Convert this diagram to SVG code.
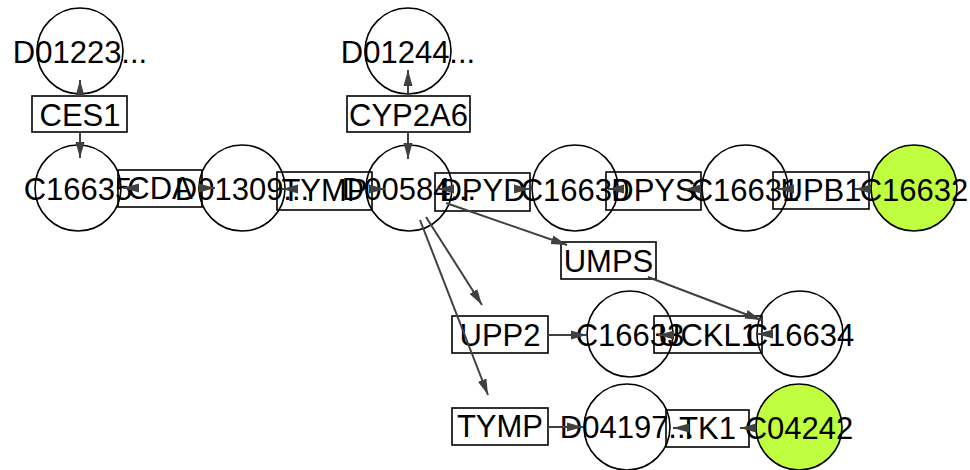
<svg xmlns="http://www.w3.org/2000/svg" width="970" height="470" viewBox="0 0 970 470">
<defs>
<style>
.c{fill:#fff;stroke:#000;stroke-width:1.6}
.g{fill:#bfff3f}
.b{fill:none;stroke:#000;stroke-width:1.6}
text{font-family:"Liberation Sans",Arial,sans-serif;font-size:31px;text-anchor:middle;fill:#000}
#edges line{stroke:#404040;stroke-width:2;marker-end:url(#ah)}
</style>
<marker id="ah" markerUnits="userSpaceOnUse" markerWidth="16" markerHeight="10" refX="16" refY="5" orient="auto" viewBox="0 0 16 10">
<path d="M0,0.5 L16,5 L0,9.5 Z" fill="#404040"/>
</marker>
</defs>
<rect width="970" height="470" fill="#fff"/>
<g id="nodes">
<g id="D01223"><circle class="c" cx="80" cy="51" r="43"/><text x="80" y="63">D01223...</text></g>
<g id="D01244"><circle class="c" cx="408" cy="51" r="43"/><text x="408" y="63">D01244...</text></g>
<g id="C16635"><circle class="c" cx="78" cy="188" r="43"/><text x="78" y="200">C16635</text></g>
<g id="D01309"><circle class="c" cx="242" cy="188" r="43"/><text x="242" y="200">D01309...</text></g>
<g id="D00584"><circle class="c" cx="409" cy="188" r="43"/><text x="409" y="200">D00584...</text></g>
<g id="C16630"><circle class="c" cx="575" cy="188" r="43"/><text x="575" y="201">C16630</text></g>
<g id="C16631"><circle class="c" cx="745" cy="188" r="43"/><text x="745" y="201">C16631</text></g>
<g id="C16632"><circle class="c g" cx="914" cy="188" r="43"/><text x="914" y="201">C16632</text></g>
<g id="C16633"><circle class="c" cx="630" cy="334" r="43"/><text x="630" y="346">C16633</text></g>
<g id="C16634"><circle class="c" cx="800" cy="334" r="43"/><text x="800" y="346">C16634</text></g>
<g id="D04197"><circle class="c" cx="627" cy="427" r="43"/><text x="627" y="438">D04197...</text></g>
<g id="C04242"><circle class="c g" cx="799" cy="427" r="43"/><text x="799" y="439">C04242</text></g>
<g id="CES1"><rect class="b" x="32" y="96" width="95" height="36"/><text x="80" y="126">CES1</text></g>
<g id="CYP2A6"><rect class="b" x="347" y="96" width="123" height="36"/><text x="408.5" y="126">CYP2A6</text></g>
<g id="CDA"><rect class="b" x="118" y="170" width="84" height="37"/><text x="160" y="199">CDA</text></g>
<g id="TYMP1"><rect class="b" x="277" y="172" width="95" height="38"/><text x="324.5" y="201">TYMP</text></g>
<g id="DPYD"><rect class="b" x="435" y="173" width="95" height="38"/><text x="482.5" y="201">DPYD</text></g>
<g id="DPYS"><rect class="b" x="606" y="172" width="95" height="38"/><text x="653.5" y="201">DPYS</text></g>
<g id="UPB1"><rect class="b" x="773" y="172" width="96" height="37"/><text x="821" y="201">UPB1</text></g>
<g id="UMPS"><rect class="b" x="561" y="242" width="95" height="37"/><text x="608.5" y="272">UMPS</text></g>
<g id="UPP2"><rect class="b" x="452" y="316" width="96" height="37"/><text x="500" y="346">UPP2</text></g>
<g id="UCKL1"><rect class="b" x="654" y="316" width="108" height="37"/><text x="708" y="346">UCKL1</text></g>
<g id="TYMP2"><rect class="b" x="452" y="408" width="96" height="37"/><text x="500" y="437">TYMP</text></g>
<g id="TK1"><rect class="b" x="666" y="410" width="83" height="37"/><text x="707.5" y="439">TK1</text></g>
</g>
<g id="edges">
<line x1="80" y1="96" x2="80" y2="80"/>
<line x1="408" y1="96" x2="408" y2="70"/>
<line x1="80" y1="132" x2="80" y2="158"/>
<line x1="408" y1="132" x2="408" y2="159"/>
<line x1="139" y1="188" x2="123" y2="188"/>
<line x1="199" y1="188" x2="215" y2="188"/>
<line x1="298" y1="189" x2="282" y2="189"/>
<line x1="369" y1="189" x2="385" y2="189"/>
<line x1="454" y1="189" x2="438" y2="189"/>
<line x1="514" y1="189" x2="530" y2="189"/>
<line x1="624" y1="189" x2="608" y2="189"/>
<line x1="701" y1="189" x2="685" y2="189"/>
<line x1="794" y1="189" x2="778" y2="189"/>
<line x1="871" y1="189" x2="855" y2="189"/>
<line x1="446" y1="203" x2="567" y2="245"/>
<line x1="648" y1="277" x2="761" y2="320"/>
<line x1="426" y1="217" x2="482" y2="305"/>
<line x1="420" y1="220" x2="488" y2="395"/>
<line x1="548" y1="335" x2="587" y2="335"/>
<line x1="674" y1="335" x2="658" y2="335"/>
<line x1="773" y1="334" x2="757" y2="334"/>
<line x1="548" y1="427" x2="583" y2="427"/>
<line x1="689" y1="428" x2="673" y2="428"/>
<line x1="756" y1="428" x2="740" y2="428"/>
</g>
</svg>
